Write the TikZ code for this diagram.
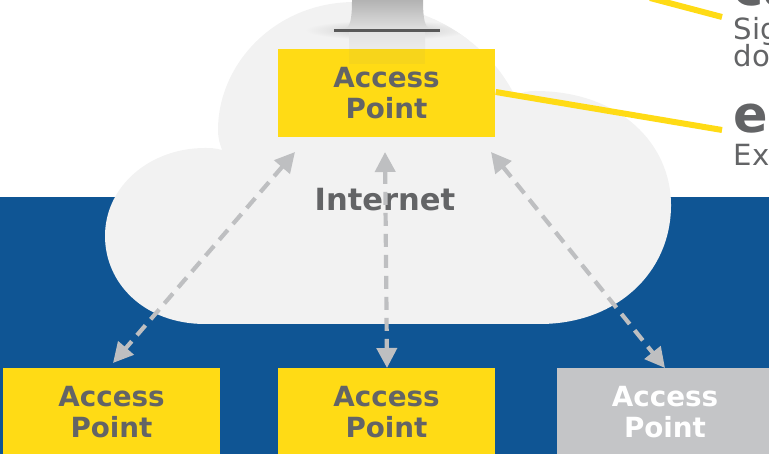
\documentclass[tikz,border=0pt]{standalone}
\usepackage{fontspec}
\setmainfont{DejaVu Sans}
\usetikzlibrary{arrows.meta}
\definecolor{apyellow}{RGB}{255,219,21}
\definecolor{apgray}{RGB}{196,197,199}
\definecolor{apblue}{RGB}{15,85,148}
\definecolor{cloudgray}{RGB}{242,242,242}
\definecolor{txtgray}{RGB}{99,100,102}
\definecolor{linkgray}{RGB}{190,191,193}
\tikzset{
	apbox/.style={minimum width=2.17cm,minimum height=0.88cm,inner sep=0pt,align=center,font=\fontsize{7.9pt}{8.6pt}\selectfont\bfseries,text=txtgray,fill=apyellow},
	aplink/.style={draw=linkgray,line width=0.042cm,dash pattern=on 0.13cm off 0.08cm,{Triangle[length=0.2cm,width=0.2cm]}-{Triangle[length=0.2cm,width=0.2cm]}},
	callout/.style={draw=apyellow,line width=0.06cm},
	bigtxt/.style={anchor=base west,inner sep=0pt,text=txtgray,font=\fontsize{14.5pt}{15pt}\selectfont\bfseries},
	smalltxt/.style={anchor=base west,inner sep=0pt,text=txtgray,font=\fontsize{8.3pt}{9pt}\selectfont},
}
\def\cloudpath{(2.05,1.30) -- (5.40,1.30)
	.. controls (6.15,1.30) and (6.71,1.80) .. (6.71,2.49)
	.. controls (6.71,3.10) and (6.20,3.63) .. (5.35,3.63)
	.. controls (5.28,3.63) and (5.22,3.62) .. (5.15,3.58)
	.. controls (4.85,4.18) and (4.20,4.52) .. (3.55,4.52)
	.. controls (2.75,4.52) and (2.18,3.90) .. (2.18,3.24)
	.. controls (2.18,3.15) and (2.20,3.10) .. (2.22,3.04)
	.. controls (2.15,3.06) and (2.10,3.06) .. (2.05,3.06)
	.. controls (1.50,3.06) and (1.05,2.68) .. (1.05,2.18)
	.. controls (1.05,1.70) and (1.45,1.30) .. (2.05,1.30) -- cycle}
\begin{document}
\begin{tikzpicture}[line join=round]
	\useasboundingbox (0,0) rectangle (7.69,4.54);
	\clip (0,0) rectangle (7.69,4.54);
	\fill[apblue] (0,0) rectangle (7.69,2.57);
	% cloud
	\fill[cloudgray] \cloudpath;
	% stand
	\begin{scope}
		\clip \cloudpath;
		\shade[inner color=gray!45,outer color=cloudgray] (3.05,4.14) rectangle (4.70,4.34);
		\shade[top color=gray!22,bottom color=cloudgray] (3.49,4.22) -- (4.25,4.22) -- (4.25,3.90) -- (3.49,3.90) -- cycle;
	\end{scope}
	\shade[top color=gray!60,bottom color=gray!25] (3.52,4.54) -- (4.23,4.54) .. controls (4.23,4.34) and (4.25,4.27) .. (4.30,4.25) -- (3.45,4.25) .. controls (3.50,4.27) and (3.52,4.34) .. (3.52,4.54) -- cycle;
	\fill[gray!70!black] (3.34,4.22) rectangle (4.40,4.25);
	% boxes
	\node[apbox] (aptop) at (3.865,3.61) {Access\\Point};
	\node[apbox] (apleft) at (1.115,0.42) {Access\\Point};
	\node[apbox] (apmid) at (3.865,0.42) {Access\\Point};
	\node[apbox,fill=apgray,text=white] (apright) at (6.65,0.42) {Access\\Point};
	\fill[gray,opacity=0.06] (3.49,4.05) rectangle (4.25,3.90);
	\node[inner sep=0pt,text=txtgray,font=\fontsize{8.7pt}{9pt}\selectfont\bfseries] (inet) at (3.85,2.54) {Internet};
	% link ends
	\coordinate (la) at (2.95,3.02);
	\coordinate (lb) at (3.85,3.02);
	\coordinate (lc) at (4.91,3.02);
	\coordinate (ra) at (1.13,0.91);
	\coordinate (rb) at (3.87,0.86);
	\coordinate (rc) at (6.65,0.86);
	\draw[aplink] (la) -- (ra);
	\draw[aplink] (lb) -- (rb);
	\draw[aplink] (lc) -- (rc);
	% callouts
	\coordinate (ca) at (7.22,3.24);
	\coordinate (cb) at (6.50,4.56);
	\coordinate (cc) at (7.22,4.37);
	\draw[callout] (aptop.east |- 0,3.62) -- (ca);
	\draw[callout] (cb) -- (cc);
	\node[bigtxt] (ctop) at (7.33,4.48) {ca};
	\node[smalltxt] (sig) at (7.33,4.14) {Sig};
	\node[smalltxt] (doc) at (7.33,3.87) {doc};
	\node[bigtxt] (el) at (7.33,3.21) {el};
	\node[smalltxt] (exc) at (7.33,2.88) {Exc};
\end{tikzpicture}
\end{document}
